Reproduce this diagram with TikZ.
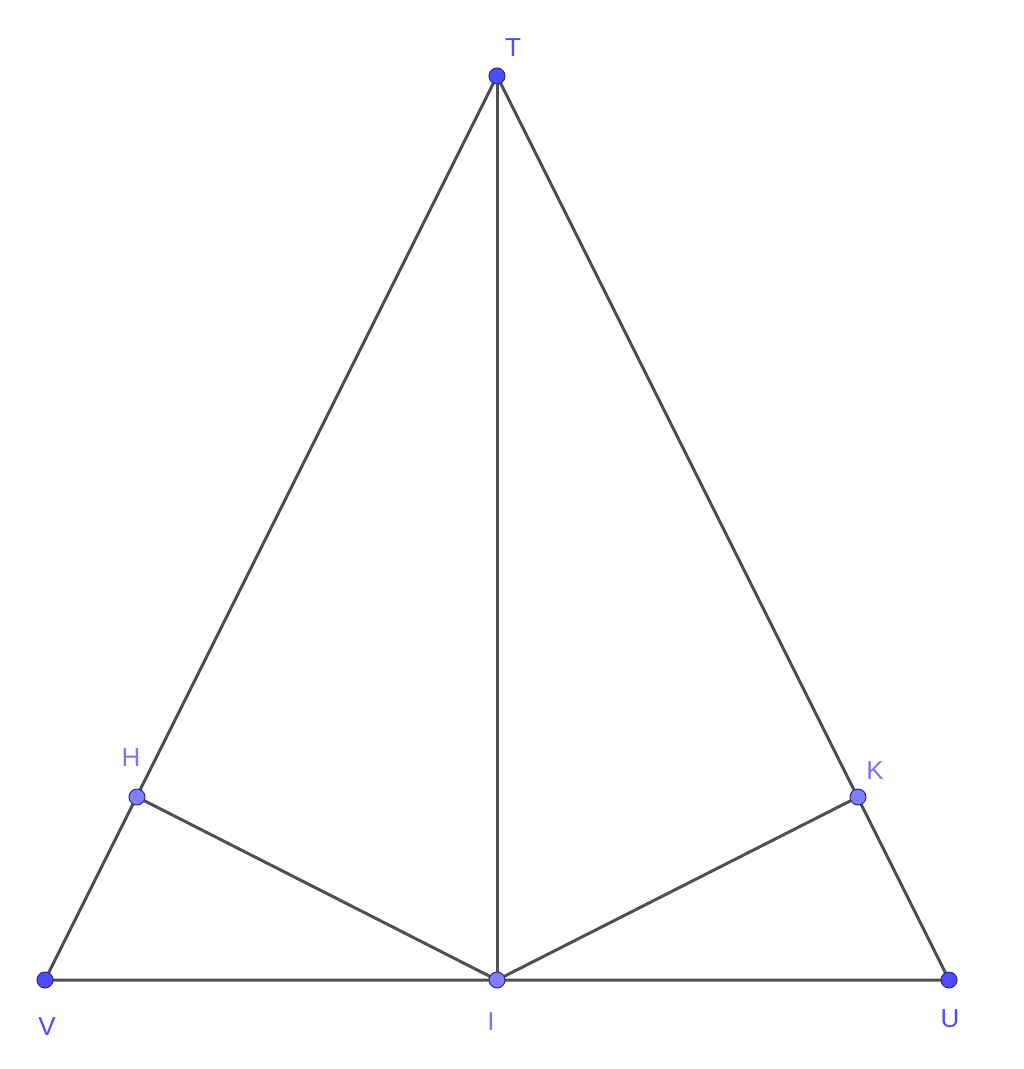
\documentclass[tikz,border=0pt]{standalone}
\usepackage{fontspec}
\setmainfont{Liberation Sans}
\definecolor{segc}{HTML}{505050}
\definecolor{freept}{HTML}{4D4DFF}
\definecolor{deppt}{HTML}{7F7FFF}
\definecolor{ptedge}{HTML}{2A2A80}
\definecolor{freelab}{HTML}{4D4DFF}
\definecolor{deplab}{HTML}{7777EE}
\begin{document}
\begin{tikzpicture}[x=1pt,y=-1pt,
  seg/.style={draw=segc,line width=3pt},
  freepoint/.style={circle,fill=freept,draw=ptedge,line width=1pt,minimum size=16pt,inner sep=0pt},
  deppoint/.style={circle,fill=deppt,draw=ptedge,line width=1pt,minimum size=16pt,inner sep=0pt},
  freelabel/.style={text=freelab,font=\fontsize{26}{30}\selectfont,inner sep=0pt},
  deplabel/.style={text=deplab,font=\fontsize{26}{30}\selectfont,inner sep=0pt}]
\useasboundingbox (0,0) rectangle (1024,1069);
\coordinate (T) at (497,76);
\coordinate (V) at (45,980);
\coordinate (U) at (949,980);
\coordinate (I) at (497,980);
\coordinate (H) at (137,797);
\coordinate (K) at (858,797);
\draw[seg] (T) -- (V) -- (U) -- cycle;
\draw[seg] (T) -- (I);
\draw[seg] (H) -- (I) -- (K);
\node[freepoint] (pT) at (T) {};
\node[freepoint] (pV) at (V) {};
\node[freepoint] (pU) at (U) {};
\node[deppoint] (pI) at (I) {};
\node[deppoint] (pH) at (H) {};
\node[deppoint] (pK) at (K) {};
\node[freelabel] (lT) at (513,48) {T};
\node[freelabel] (lV) at (47,1027) {V};
\node[freelabel] (lU) at (950,1019) {U};
\node[deplabel] (lI) at (491,1022) {I};
\node[deplabel] (lH) at (131,758) {H};
\node[deplabel] (lK) at (875,771) {K};
\end{tikzpicture}
\end{document}
